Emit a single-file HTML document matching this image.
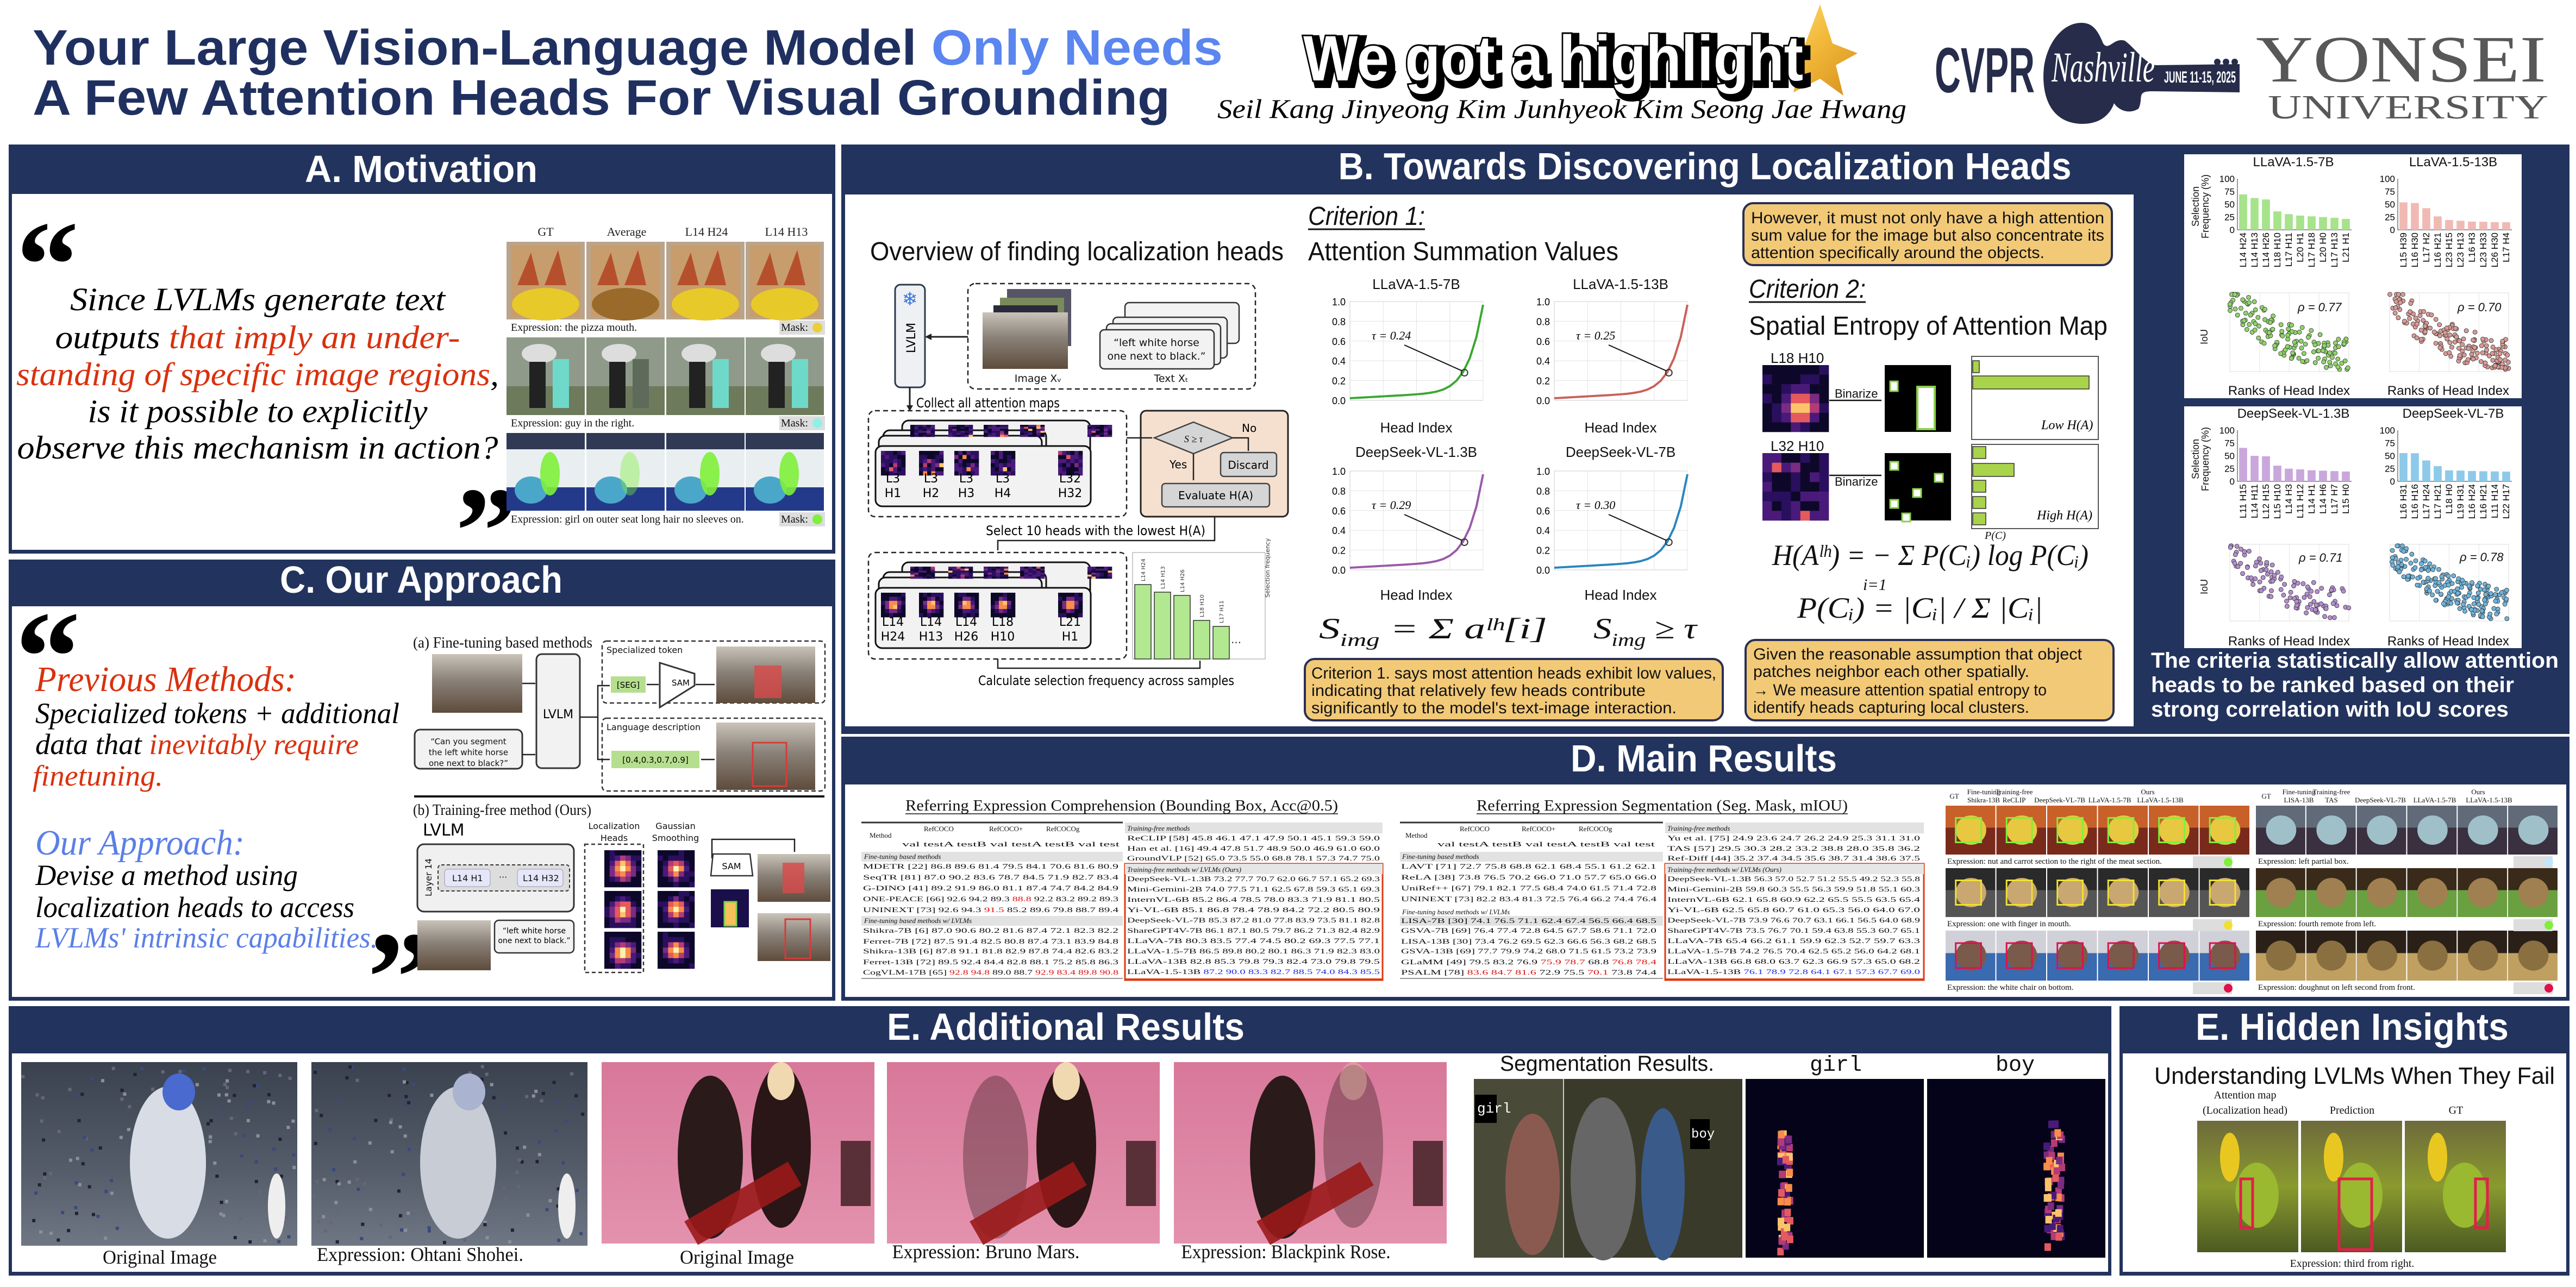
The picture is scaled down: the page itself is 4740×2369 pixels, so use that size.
<!DOCTYPE html>
<html><head><meta charset="utf-8">
<style>
html,body{margin:0;padding:0;background:#fff;width:4740px;height:2369px;overflow:hidden}
svg{display:block}
.hd{font-family:"Liberation Sans",sans-serif;font-weight:bold;fill:#fff}
.sf{font-family:"Liberation Serif",serif}
.ss{font-family:"DejaVu Sans","Liberation Sans",sans-serif}
.ls{font-family:"Liberation Sans",sans-serif}
.tb{font-family:"Liberation Serif",serif;font-size:13px;fill:#111}
</style></head><body>
<svg id="s" xmlns="http://www.w3.org/2000/svg" width="4740" height="2369" viewBox="0 0 4740 2369">
<defs>
<linearGradient id="star" x1="0" y1="0" x2="1" y2="1"><stop offset="0" stop-color="#ffe27a"/><stop offset="0.5" stop-color="#f2b93a"/><stop offset="1" stop-color="#d58f1c"/></linearGradient>
<linearGradient id="pink" x1="0" y1="0" x2="0" y2="1"><stop offset="0" stop-color="#d8789a"/><stop offset="1" stop-color="#e392ae"/></linearGradient>
<linearGradient id="crowd" x1="0" y1="0" x2="0" y2="1"><stop offset="0" stop-color="#3a4250"/><stop offset="0.6" stop-color="#555d6a"/><stop offset="1" stop-color="#6f7785"/></linearGradient>
<linearGradient id="horse" x1="0" y1="0" x2="0" y2="1"><stop offset="0" stop-color="#c9c3b8"/><stop offset="0.45" stop-color="#8a8178"/><stop offset="1" stop-color="#5e4c3c"/></linearGradient>
<linearGradient id="corn" x1="0" y1="0" x2="0" y2="1"><stop offset="0" stop-color="#6e6a3c"/><stop offset="0.5" stop-color="#8a9a2e"/><stop offset="1" stop-color="#4c5a22"/></linearGradient>
</defs>

<text x="60" y="119" font-size="92" class="ls" font-weight="bold" fill="#1f3060" textLength="2190" lengthAdjust="spacingAndGlyphs">Your Large Vision-Language Model <tspan fill="#5b86f0">Only Needs</tspan></text>
<text x="60" y="211" font-size="92" class="ls" font-weight="bold" fill="#1f3060" textLength="2093" lengthAdjust="spacingAndGlyphs">A Few Attention Heads For Visual Grounding</text>

<polygon fill="url(#star)" points="3349,8 3372,80 3418,98 3378,120 3392,176 3349,145 3300,170 3312,118 3252,100 3322,80"/>
<text x="2406" y="154" font-size="118" class="ls" font-weight="900" fill="#000" stroke="#000" stroke-width="16" textLength="920" lengthAdjust="spacingAndGlyphs">We got a highlight</text>
<text x="2398" y="148" font-size="118" class="ls" font-weight="900" fill="#fff" stroke="#000" stroke-width="6" paint-order="stroke" textLength="920" lengthAdjust="spacingAndGlyphs">We got a highlight</text>
<text x="2240" y="217" font-size="50" class="sf" font-style="italic" fill="#000" textLength="1268" lengthAdjust="spacingAndGlyphs">Seil Kang  Jinyeong Kim  Junhyeok Kim  Seong Jae Hwang</text>

<text x="3560" y="170" font-size="118" class="ls" font-weight="bold" fill="#262c4a" textLength="184" lengthAdjust="spacingAndGlyphs">CVPR</text>
<path d="M3830,42 C3790,42 3760,90 3760,140 C3760,200 3790,228 3832,228 C3870,228 3885,205 3890,190 C3900,205 3920,210 3935,200 C3945,180 3930,168 3960,168 L4121,170 L4121,118 L3966,120 C3945,115 3930,90 3910,75 C3890,68 3880,95 3870,80 C3860,55 3850,42 3830,42 Z" fill="#262c4a"/>
<text x="3775" y="150" font-size="78" class="sf" font-style="italic" fill="#fff" textLength="190" lengthAdjust="spacingAndGlyphs">Nashville</text>
<text x="3982" y="152" font-size="30" class="ls" font-weight="bold" fill="#fff" textLength="132" lengthAdjust="spacingAndGlyphs">JUNE 11-15, 2025</text>
<circle cx="4080" cy="114" r="6" fill="#262c4a"/><circle cx="4096" cy="114" r="6" fill="#262c4a"/><circle cx="4112" cy="114" r="6" fill="#262c4a"/>
<text x="4151" y="150" font-size="122" class="sf" fill="#585858" textLength="534" lengthAdjust="spacingAndGlyphs">YONSEI</text>
<text x="4173" y="218" font-size="62" class="sf" fill="#585858" textLength="516" lengthAdjust="spacingAndGlyphs">UNIVERSITY</text>

<g fill="#22335d">
<rect x="16" y="266" width="1521" height="753"/>
<rect x="16" y="1030" width="1521" height="812"/>
<rect x="1548" y="266" width="3180" height="1085"/>
<rect x="1548" y="1356" width="3180" height="486"/>
<rect x="16" y="1852" width="3869" height="496"/>
<rect x="3900" y="1852" width="828" height="496"/>
</g>
<g fill="#fff">
<rect x="22" y="357" width="1509" height="655"/>
<rect x="22" y="1116" width="1509" height="719"/>
<path d="M1555,358 H3926 V1337 H1555 Z"/>
<rect x="4019" y="284" width="621" height="449"/>
<rect x="4019" y="748" width="621" height="445"/>
<rect x="1555" y="1444" width="3167" height="391"/>
<rect x="22" y="1939" width="3857" height="402"/>
<rect x="3906" y="1939" width="816" height="402"/>
</g>
<text x="775" y="335" text-anchor="middle" font-size="70" class="hd" textLength="428" lengthAdjust="spacingAndGlyphs">A. Motivation</text>
<text x="775" y="1091" text-anchor="middle" font-size="70" class="hd" textLength="520" lengthAdjust="spacingAndGlyphs">C. Our Approach</text>
<text x="3137" y="330" text-anchor="middle" font-size="70" class="hd" textLength="1349" lengthAdjust="spacingAndGlyphs">B. Towards Discovering Localization Heads</text>
<text x="3135" y="1420" text-anchor="middle" font-size="70" class="hd" textLength="490" lengthAdjust="spacingAndGlyphs">D. Main Results</text>
<text x="1961" y="1914" text-anchor="middle" font-size="70" class="hd" textLength="658" lengthAdjust="spacingAndGlyphs">E. Additional Results</text>
<text x="4328" y="1914" text-anchor="middle" font-size="70" class="hd" textLength="576" lengthAdjust="spacingAndGlyphs">E. Hidden Insights</text>

<text x="30" y="565" font-size="230" class="sf" font-weight="bold" fill="#000">“</text>
<g class="sf" font-style="italic" font-size="60" fill="#000" text-anchor="middle">
<text x="474" y="571" textLength="690" lengthAdjust="spacingAndGlyphs">Since LVLMs generate text</text>
<text x="474" y="641" textLength="745" lengthAdjust="spacingAndGlyphs">outputs <tspan fill="#d9310e">that imply an under-</tspan></text>
<text x="474" y="709" textLength="888" lengthAdjust="spacingAndGlyphs"><tspan fill="#d9310e">standing of specific image regions</tspan>,</text>
<text x="474" y="777" textLength="625" lengthAdjust="spacingAndGlyphs">is it possible to explicitly</text>
<text x="474" y="844" textLength="885" lengthAdjust="spacingAndGlyphs">observe this mechanism in action?</text>
</g>
<text x="838" y="1055" font-size="230" class="sf" font-weight="bold" fill="#000">”</text>
<g class="sf" font-size="22" fill="#222" text-anchor="middle">
<text x="1004" y="434">GT</text><text x="1153" y="434">Average</text><text x="1300" y="434">L14 H24</text><text x="1447" y="434">L14 H13</text>
</g>
<g id="agrid"></g>
<g class="sf" font-size="20" fill="#111">
<rect x="932" y="590" width="586" height="26" fill="#fff"/>
<text x="940" y="609">Expression: the pizza mouth.</text>
<rect x="1434" y="590" width="84" height="26" fill="#ddd"/><text x="1437" y="609">Mask:</text><circle cx="1504" cy="603" r="9" fill="#e9cf3a"/>
<text x="940" y="785">Expression: guy in the right.</text>
<rect x="1434" y="766" width="84" height="26" fill="#ddd"/><text x="1437" y="785">Mask:</text><circle cx="1504" cy="779" r="9" fill="#8ff0e6"/>
<text x="940" y="962">Expression: girl on outer seat long hair no sleeves on.</text>
<rect x="1434" y="943" width="84" height="26" fill="#ddd"/><text x="1437" y="962">Mask:</text><circle cx="1504" cy="956" r="9" fill="#7ef03a"/>
</g>

<text x="28" y="1290" font-size="240" class="sf" font-weight="bold" fill="#000">“</text>
<g class="sf" font-style="italic">
<text x="65" y="1272" font-size="66" fill="#d9310e" textLength="480" lengthAdjust="spacingAndGlyphs">Previous Methods:</text>
<text x="65" y="1331" font-size="54" fill="#000" textLength="670" lengthAdjust="spacingAndGlyphs">Specialized tokens + additional</text>
<text x="65" y="1388" font-size="54" fill="#000" textLength="595" lengthAdjust="spacingAndGlyphs">data that <tspan fill="#d9310e">inevitably require</tspan></text>
<text x="60" y="1446" font-size="54" fill="#d9310e" textLength="240" lengthAdjust="spacingAndGlyphs">finetuning.</text>
<text x="65" y="1573" font-size="66" fill="#5b7fe8" textLength="385" lengthAdjust="spacingAndGlyphs">Our Approach:</text>
<text x="65" y="1629" font-size="54" fill="#000" textLength="483" lengthAdjust="spacingAndGlyphs">Devise a method using</text>
<text x="65" y="1688" font-size="54" fill="#000" textLength="587" lengthAdjust="spacingAndGlyphs">localization heads to access</text>
<text x="65" y="1744" font-size="54" fill="#5b7fe8" textLength="630" lengthAdjust="spacingAndGlyphs">LVLMs' intrinsic capabilities.</text>
</g>
<text x="676" y="1880" font-size="240" class="sf" font-weight="bold" fill="#000">”</text>
<g class="sf" fill="#111"><text x="760" y="1192" font-size="28" textLength="330" lengthAdjust="spacingAndGlyphs">(a) Fine-tuning based methods</text>
<text x="760" y="1500" font-size="28" textLength="328" lengthAdjust="spacingAndGlyphs">(b) Training-free method (Ours)</text></g>
<rect x="795" y="1204" width="166" height="108" fill="url(#horse)"/>
<rect x="987" y="1204" width="80" height="210" rx="10" fill="#f2f2f2" stroke="#333" stroke-width="3"/>
<text x="1027" y="1322" font-size="22" class="ss" text-anchor="middle">LVLM</text>
<rect x="763" y="1343" width="198" height="72" rx="10" fill="#f2f2f2" stroke="#333" stroke-width="3"/>
<g class="ss" font-size="15" text-anchor="middle" fill="#111"><text x="862" y="1370">“Can you segment</text><text x="862" y="1390">the left white horse</text><text x="862" y="1410">one next to black?”</text></g>
<rect x="1108" y="1180" width="410" height="114" fill="none" stroke="#333" stroke-width="2.5" stroke-dasharray="8,5" rx="8"/>
<rect x="1108" y="1322" width="410" height="134" fill="none" stroke="#333" stroke-width="2.5" stroke-dasharray="8,5" rx="8"/>
<g class="ss" font-size="16" fill="#111"><text x="1116" y="1202">Specialized token</text><text x="1116" y="1344">Language description</text></g>
<rect x="1124" y="1245" width="64" height="30" fill="#b5df8e"/><text x="1156" y="1266" font-size="15" class="ss" text-anchor="middle">[SEG]</text>
<polygon points="1214,1220 1278,1240 1278,1262 1214,1302" fill="#fff" stroke="#333" stroke-width="3"/>
<text x="1236" y="1262" font-size="15" class="ss">SAM</text>
<rect x="1125" y="1382" width="162" height="32" fill="#b5df8e"/><text x="1206" y="1404" font-size="15" class="ss" text-anchor="middle">[0.4,0.3,0.7,0.9]</text>
<rect x="1318" y="1190" width="182" height="104" fill="url(#horse)"/><rect x="1388" y="1225" width="50" height="60" fill="#d94a4a" opacity="0.8"/>
<rect x="1318" y="1330" width="182" height="124" fill="url(#horse)"/><rect x="1385" y="1367" width="62" height="80" fill="none" stroke="#d93a3a" stroke-width="3"/>
<line x1="762" y1="1466" x2="1517" y2="1466" stroke="#111" stroke-width="4"/>
<g stroke="#222" stroke-width="2.5" fill="none"><path d="M961,1258 H985"/><path d="M961,1389 H985"/><path d="M1067,1320 H1100 V1262 H1122 M1100,1320 V1398 H1122"/><path d="M1190,1260 H1212"/><path d="M1280,1260 H1315"/><path d="M1290,1398 H1315"/></g>
<text x="778" y="1538" font-size="30" class="ss">LVLM</text>
<rect x="768" y="1554" width="288" height="124" rx="12" fill="#f0f0f0" stroke="#333" stroke-width="3"/>
<rect x="806" y="1592" width="242" height="48" rx="6" fill="#ddd" stroke="#333" stroke-width="2" stroke-dasharray="6,4"/>
<rect x="818" y="1600" width="84" height="32" rx="6" fill="#e6e6fb" stroke="#99a" /><rect x="952" y="1600" width="84" height="32" rx="6" fill="#e6e6fb" stroke="#99a"/>
<g class="ss" font-size="16" fill="#111"><text x="832" y="1622">L14 H1</text><text x="918" y="1620">···</text><text x="962" y="1622">L14 H32</text>
<text x="794" y="1650" font-size="16" transform="rotate(-90 794 1650)">Layer 14</text></g>
<rect x="768" y="1694" width="135" height="92" fill="url(#horse)"/>
<rect x="910" y="1694" width="146" height="60" rx="8" fill="#f2f2f2" stroke="#333" stroke-width="2.5"/>
<g class="ss" font-size="14" text-anchor="middle"><text x="983" y="1718">“left white horse</text><text x="983" y="1736">one next to black.”</text></g>
<g class="ss" font-size="16" text-anchor="middle" fill="#111"><text x="1130" y="1526">Localization</text><text x="1130" y="1548">Heads</text><text x="1243" y="1526">Gaussian</text><text x="1243" y="1548">Smoothing</text></g>
<rect x="1076" y="1554" width="108" height="236" fill="none" stroke="#333" stroke-width="2.5" stroke-dasharray="7,5"/>
<g id="cmaps"></g>
<path d="M1310,1580 V1545 H1462 V1568" stroke="#222" stroke-width="2.5" fill="none"/>
<polygon points="1312,1572 1380,1572 1385,1612 1308,1612" fill="#fff" stroke="#333" stroke-width="2.5"/><text x="1346" y="1600" font-size="16" class="ss" text-anchor="middle">SAM</text>
<rect x="1308" y="1637" width="70" height="70" fill="#1a0f4a"/><rect x="1333" y="1660" width="22" height="44" fill="#f6c15a" stroke="#7bd44a" stroke-width="3"/>
<rect x="1394" y="1572" width="134" height="88" fill="url(#horse)"/><rect x="1440" y="1588" width="40" height="56" fill="#d94a4a" opacity="0.8"/>
<rect x="1394" y="1681" width="134" height="88" fill="url(#horse)"/><rect x="1445" y="1692" width="46" height="72" fill="none" stroke="#d93a3a" stroke-width="3"/>

<g class="ls" fill="#111">
<text x="1601" y="479" font-size="48" textLength="761" lengthAdjust="spacingAndGlyphs">Overview of finding localization heads</text>
<text x="2407" y="414" font-size="48" font-style="italic" textLength="215" lengthAdjust="spacingAndGlyphs">Criterion 1:</text>
<line x1="2407" y1="422" x2="2622" y2="422" stroke="#111" stroke-width="3"/>
<text x="2407" y="479" font-size="48" textLength="571" lengthAdjust="spacingAndGlyphs">Attention Summation Values</text>
<text x="3218" y="548" font-size="48" font-style="italic" textLength="215" lengthAdjust="spacingAndGlyphs">Criterion 2:</text>
<line x1="3218" y1="556" x2="3433" y2="556" stroke="#111" stroke-width="3"/>
<text x="3218" y="616" font-size="48" textLength="660" lengthAdjust="spacingAndGlyphs">Spatial Entropy of Attention Map</text>
</g>
<rect x="3208" y="374" width="678" height="114" rx="18" fill="#f2c977" stroke="#2a2f55" stroke-width="4"/>
<g class="ls" font-size="30" fill="#111"><text x="3222" y="411" textLength="650" lengthAdjust="spacingAndGlyphs">However, it must not only have a high attention</text><text x="3222" y="443" textLength="650" lengthAdjust="spacingAndGlyphs">sum value for the image but also concentrate its</text><text x="3222" y="475" textLength="540" lengthAdjust="spacingAndGlyphs">attention specifically around the objects.</text></g>
<rect x="2401" y="1213" width="769" height="113" rx="18" fill="#f2c977" stroke="#2a2f55" stroke-width="4"/>
<g class="ls" font-size="30" fill="#111"><text x="2413" y="1249" textLength="745" lengthAdjust="spacingAndGlyphs">Criterion 1. says most attention heads exhibit low values,</text><text x="2413" y="1281" textLength="615" lengthAdjust="spacingAndGlyphs">indicating that relatively few heads contribute</text><text x="2413" y="1313" textLength="672" lengthAdjust="spacingAndGlyphs">significantly to the model's text-image interaction.</text></g>
<rect x="3212" y="1178" width="677" height="148" rx="18" fill="#f2c977" stroke="#2a2f55" stroke-width="4"/>
<g class="ls" font-size="30" fill="#111"><text x="3226" y="1214" textLength="605" lengthAdjust="spacingAndGlyphs">Given the reasonable assumption that object</text><text x="3226" y="1246" textLength="508" lengthAdjust="spacingAndGlyphs">patches neighbor each other spatially.</text><text x="3226" y="1280" textLength="540" lengthAdjust="spacingAndGlyphs">→ We measure attention spatial entropy to</text><text x="3226" y="1312" textLength="508" lengthAdjust="spacingAndGlyphs">identify heads capturing local clusters.</text></g>

<rect x="1647" y="524" width="55" height="189" rx="10" fill="#eef0f4" stroke="#2a3a4a" stroke-width="3"/>
<text x="1674" y="562" font-size="34" text-anchor="middle" fill="#3a78d8" class="ss">❄</text>
<text x="1684" y="650" font-size="22" class="ss" transform="rotate(-90 1684 650)">LVLM</text>
<rect x="1781" y="522" width="529" height="194" rx="14" fill="none" stroke="#222" stroke-width="2.5" stroke-dasharray="9,6"/>
<path d="M1781,620 H1706" stroke="#222" stroke-width="3"/><polygon points="1702,620 1714,614 1714,626" fill="#222"/>
<rect x="1853" y="532" width="118" height="105" fill="#556"/><rect x="1840" y="548" width="118" height="105" fill="#7a8a5a"/><rect x="1828" y="562" width="118" height="105" fill="#2a2a3a"/>
<rect x="1808" y="575" width="157" height="104" fill="url(#horse)"/>
<rect x="2070" y="557" width="210" height="75" rx="8" fill="#f2f2f2" stroke="#333" stroke-width="2.5"/>
<rect x="2048" y="584" width="210" height="75" rx="8" fill="#f2f2f2" stroke="#333" stroke-width="2.5"/>
<rect x="2036" y="596" width="210" height="75" rx="8" fill="#f2f2f2" stroke="#333" stroke-width="2.5"/>
<rect x="2024" y="607" width="210" height="72" rx="8" fill="#f2f2f2" stroke="#333" stroke-width="2.5"/>
<g class="ss" font-size="19" text-anchor="middle" fill="#111"><text x="2128" y="637">“left white horse</text><text x="2128" y="662">one next to black.”</text><text x="1910" y="703">Image Xᵥ</text><text x="2155" y="703">Text Xₜ</text></g>
<path d="M1674,713 V752" stroke="#222" stroke-width="3"/><polygon points="1674,757 1668,746 1680,746" fill="#222"/>
<text x="1686" y="750" font-size="24" class="ss" textLength="264" lengthAdjust="spacingAndGlyphs">Collect all attention maps</text>
<rect x="1598" y="756" width="475" height="195" rx="12" fill="none" stroke="#222" stroke-width="2.5" stroke-dasharray="9,6"/>
<rect x="2099" y="756" width="271" height="195" rx="10" fill="#f5e0d0" stroke="#222" stroke-width="3"/>
<g id="flow1"></g>
<polygon points="2196,777 2268,806 2196,835 2124,806" fill="#d5d5d5" stroke="#444" stroke-width="2.5"/>
<text x="2196" y="814" font-size="18" class="sf" font-style="italic" text-anchor="middle">S ≥ τ</text>
<path d="M2073,806 H2120 M2268,806 H2297 V830 M2196,835 V884" stroke="#222" stroke-width="2.5" fill="none"/>
<text x="2285" y="795" font-size="20" class="ss">No</text><text x="2152" y="862" font-size="20" class="ss">Yes</text>
<rect x="2246" y="833" width="103" height="44" rx="6" fill="#d5d5d5" stroke="#444" stroke-width="2.5"/><text x="2297" y="863" font-size="20" class="ss" text-anchor="middle">Discard</text>
<rect x="2138" y="890" width="198" height="43" rx="6" fill="#d5d5d5" stroke="#444" stroke-width="2.5"/><text x="2237" y="919" font-size="20" class="ss" text-anchor="middle">Evaluate H(A)</text>
<path d="M2235,951 V995 H1836 V1013" stroke="#222" stroke-width="2.5" fill="none"/>
<text x="1814" y="985" font-size="24" class="ss" textLength="404" lengthAdjust="spacingAndGlyphs">Select 10 heads with the lowest H(A)</text>
<rect x="1598" y="1017" width="475" height="196" rx="12" fill="none" stroke="#222" stroke-width="2.5" stroke-dasharray="9,6"/>
<g id="flow2"></g>
<rect x="2084" y="1017" width="244" height="196" fill="#fff" stroke="#999" stroke-width="1"/>
<g fill="#b2e890" stroke="#333" stroke-width="1.5">
<rect x="2088" y="1076" width="30" height="137"/><rect x="2124" y="1090" width="30" height="123"/><rect x="2160" y="1096" width="30" height="117"/><rect x="2196" y="1142" width="30" height="71"/><rect x="2232" y="1153" width="30" height="60"/></g>
<g class="ss" font-size="10" fill="#333"><text x="2107" y="1070" transform="rotate(-90 2107 1070)">L14 H24</text><text x="2143" y="1084" transform="rotate(-90 2143 1084)">L14 H13</text><text x="2179" y="1090" transform="rotate(-90 2179 1090)">L14 H26</text><text x="2215" y="1136" transform="rotate(-90 2215 1136)">L18 H10</text><text x="2251" y="1147" transform="rotate(-90 2251 1147)">L17 H11</text>
<text x="2265" y="1190" font-size="20">···</text><text x="2336" y="1100" font-size="11" transform="rotate(-90 2336 1100)">Selection frequency</text></g>
<path d="M1836,1213 V1230 H2208 V1216" stroke="#222" stroke-width="2.5" fill="none"/>
<text x="1800" y="1261" font-size="24" class="ss" textLength="471" lengthAdjust="spacingAndGlyphs">Calculate selection frequency across samples</text>

<g id="lplots"></g>
<g class="ls" font-size="26" fill="#111" text-anchor="middle">
<text x="2606" y="532">LLaVA-1.5-7B</text><text x="2982" y="532">LLaVA-1.5-13B</text>
<text x="2606" y="841">DeepSeek-VL-1.3B</text><text x="2982" y="841">DeepSeek-VL-7B</text>
<text x="2606" y="796">Head Index</text><text x="2982" y="796">Head Index</text>
<text x="2606" y="1104">Head Index</text><text x="2982" y="1104">Head Index</text>
</g>
<g class="sf" font-size="54" font-style="italic" fill="#111">
<text x="2427" y="1175" textLength="420" lengthAdjust="spacingAndGlyphs">S<tspan font-size="34" dy="14">img</tspan><tspan dy="-14"> = Σ aˡʰ[i]</tspan></text>
<text x="2932" y="1175" textLength="190" lengthAdjust="spacingAndGlyphs">S<tspan font-size="34" dy="14">img</tspan><tspan dy="-14"> ≥ τ</tspan></text>
<text x="3261" y="1040" textLength="582" lengthAdjust="spacingAndGlyphs">H(Aˡʰ) = − Σ P(Cᵢ) log P(Cᵢ)</text>
<text x="3307" y="1137" textLength="452" lengthAdjust="spacingAndGlyphs">P(Cᵢ) = |Cᵢ| / Σ |Cᵢ|</text>
<text x="3428" y="1086" font-size="30">i=1</text>
</g>
<g class="ls" font-size="26" fill="#111"><text x="3258" y="668">L18 H10</text><text x="3258" y="830">L32 H10</text><text x="3376" y="732" font-size="22">Binarize</text><text x="3376" y="894" font-size="22">Binarize</text><text x="3652" y="992" font-size="20" class="sf" font-style="italic">P(C)</text></g>
<g id="entropy"></g>
<path d="M3366,737 H3462 M3366,875 H3462" stroke="#111" stroke-width="2.5"/>
<rect x="3628" y="656" width="233" height="153" fill="#fff" stroke="#555" stroke-width="2"/>
<rect x="3628" y="818" width="233" height="155" fill="#fff" stroke="#555" stroke-width="2"/>
<g fill="#a9d34a" stroke="#333" stroke-width="1.5"><rect x="3630" y="664" width="12" height="22"/><rect x="3630" y="692" width="214" height="24"/>
<rect x="3630" y="822" width="24" height="22"/><rect x="3630" y="853" width="76" height="24"/><rect x="3630" y="884" width="24" height="22"/><rect x="3630" y="914" width="24" height="22"/><rect x="3630" y="944" width="24" height="22"/></g>
<text x="3756" y="790" font-size="24" class="sf" font-style="italic">Low H(A)</text><text x="3748" y="956" font-size="24" class="sf" font-style="italic">High H(A)</text>

<g id="rpanel"></g>
<g class="ls" font-size="24" fill="#111" text-anchor="middle">
<text x="4220" y="306">LLaVA-1.5-7B</text><text x="4514" y="306">LLaVA-1.5-13B</text>
<text x="4220" y="769">DeepSeek-VL-1.3B</text><text x="4514" y="769">DeepSeek-VL-7B</text>
<text x="4212" y="727">Ranks of Head Index</text><text x="4505" y="727">Ranks of Head Index</text>
<text x="4212" y="1188">Ranks of Head Index</text><text x="4505" y="1188">Ranks of Head Index</text>
</g>
<g class="ls" font-size="18" fill="#111">
<text x="4046" y="380" transform="rotate(-90 4046 380)" text-anchor="middle">Selection</text><text x="4064" y="380" transform="rotate(-90 4064 380)" text-anchor="middle">Frequency (%)</text>
<text x="4046" y="845" transform="rotate(-90 4046 845)" text-anchor="middle">Selection</text><text x="4064" y="845" transform="rotate(-90 4064 845)" text-anchor="middle">Frequency (%)</text>
<text x="4062" y="620" transform="rotate(-90 4062 620)" text-anchor="middle">IoU</text><text x="4062" y="1080" transform="rotate(-90 4062 1080)" text-anchor="middle">IoU</text>
<text x="4228" y="573" font-style="italic" font-size="22">ρ = 0.77</text><text x="4522" y="573" font-style="italic" font-size="22">ρ = 0.70</text>
<text x="4230" y="1034" font-style="italic" font-size="22">ρ = 0.71</text><text x="4526" y="1033" font-style="italic" font-size="22">ρ = 0.78</text>
</g>
<g class="ls" font-size="40" font-weight="bold" fill="#fff">
<text x="3958" y="1229" textLength="750" lengthAdjust="spacingAndGlyphs">The criteria statistically allow attention</text>
<text x="3958" y="1274" textLength="668" lengthAdjust="spacingAndGlyphs">heads to be ranked based on their</text>
<text x="3958" y="1319" textLength="658" lengthAdjust="spacingAndGlyphs">strong correlation with IoU scores</text>
</g>

<g class="sf" font-size="28" fill="#111">
<text x="1666" y="1492" textLength="796" lengthAdjust="spacingAndGlyphs">Referring Expression Comprehension (Bounding Box, Acc@0.5)</text>
<text x="2717" y="1492" textLength="683" lengthAdjust="spacingAndGlyphs">Referring Expression Segmentation (Seg. Mask, mIOU)</text>
</g>
<line x1="1666" y1="1498" x2="2462" y2="1498" stroke="#111" stroke-width="1.5"/><line x1="2717" y1="1498" x2="3400" y2="1498" stroke="#111" stroke-width="1.5"/>
<g id="tables"></g>
<g class="tb">
<text x="1600" y="1542">Method</text><text x="1700" y="1530">RefCOCO</text><text x="1820" y="1530">RefCOCO+</text><text x="1925" y="1530">RefCOCOg</text>
<text x="1660" y="1558" textLength="400" lengthAdjust="spacingAndGlyphs">val testA testB val testA testB val test</text>
<text x="1590" y="1581" font-style="italic">Fine-tuning based methods</text>
<text x="1588" y="1599" textLength="470" lengthAdjust="spacingAndGlyphs">MDETR [22]   86.8 89.6 81.4 79.5 84.1 70.6 81.6 80.9</text>
<text x="1588" y="1619" textLength="470" lengthAdjust="spacingAndGlyphs">SeqTR [81]   87.0 90.2 83.6 78.7 84.5 71.9 82.7 83.4</text>
<text x="1588" y="1639" textLength="470" lengthAdjust="spacingAndGlyphs">G-DINO [41]  89.2 91.9 86.0 81.1 87.4 74.7 84.2 84.9</text>
<text x="1588" y="1659" textLength="470" lengthAdjust="spacingAndGlyphs">ONE-PEACE [66] 92.6 94.2 89.3 <tspan fill="#e01010">88.8</tspan> 92.2 83.2 89.2 89.3</text>
<text x="1588" y="1679" textLength="470" lengthAdjust="spacingAndGlyphs">UNINEXT [73] 92.6 94.3 <tspan fill="#e01010">91.5</tspan> 85.2 89.6 79.8 88.7 89.4</text>
<text x="1590" y="1699" font-style="italic">Fine-tuning based methods w/ LVLMs</text>
<text x="1588" y="1717" textLength="470" lengthAdjust="spacingAndGlyphs">Shikra-7B [6] 87.0 90.6 80.2 81.6 87.4 72.1 82.3 82.2</text>
<text x="1588" y="1737" textLength="470" lengthAdjust="spacingAndGlyphs">Ferret-7B [72] 87.5 91.4 82.5 80.8 87.4 73.1 83.9 84.8</text>
<text x="1588" y="1755" textLength="470" lengthAdjust="spacingAndGlyphs">Shikra-13B [6] 87.8 91.1 81.8 82.9 87.8 74.4 82.6 83.2</text>
<text x="1588" y="1775" textLength="470" lengthAdjust="spacingAndGlyphs">Ferret-13B [72] 89.5 92.4 84.4 82.8 88.1 75.2 85.8 86.3</text>
<text x="1588" y="1794" textLength="470" lengthAdjust="spacingAndGlyphs">CogVLM-17B [65] <tspan fill="#e01010">92.8 94.8</tspan> 89.0 88.7 <tspan fill="#e01010">92.9 83.4 89.8 90.8</tspan></text>
<text x="2074" y="1529" font-style="italic">Training-free methods</text>
<text x="2074" y="1547" textLength="465" lengthAdjust="spacingAndGlyphs">ReCLIP [58] 45.8 46.1 47.1 47.9 50.1 45.1 59.3 59.0</text>
<text x="2074" y="1566" textLength="465" lengthAdjust="spacingAndGlyphs">Han et al. [16] 49.4 47.8 51.7 48.9 50.0 46.9 61.0 60.0</text>
<text x="2074" y="1584" textLength="465" lengthAdjust="spacingAndGlyphs">GroundVLP [52] 65.0 73.5 55.0 68.8 78.1 57.3 74.7 75.0</text>
<text x="2074" y="1605" font-style="italic">Training-free methods w/ LVLMs (Ours)</text>
<text x="2074" y="1622" textLength="465" lengthAdjust="spacingAndGlyphs">DeepSeek-VL-1.3B 73.2 77.7 70.7 62.0 66.7 57.1 65.2 69.3</text>
<text x="2074" y="1641" textLength="465" lengthAdjust="spacingAndGlyphs">Mini-Gemini-2B 74.0 77.5 71.1 62.5 67.8 59.3 65.1 69.3</text>
<text x="2074" y="1660" textLength="465" lengthAdjust="spacingAndGlyphs">InternVL-6B 85.2 86.4 78.5 78.0 83.3 71.9 81.1 80.5</text>
<text x="2074" y="1679" textLength="465" lengthAdjust="spacingAndGlyphs">Yi-VL-6B 85.1 86.8 78.4 78.9 84.2 72.2 80.5 80.9</text>
<text x="2074" y="1698" textLength="465" lengthAdjust="spacingAndGlyphs">DeepSeek-VL-7B 85.3 87.2 81.0 77.8 83.9 73.5 81.1 82.8</text>
<text x="2074" y="1717" textLength="465" lengthAdjust="spacingAndGlyphs">ShareGPT4V-7B 86.1 87.1 80.5 79.7 86.2 71.3 82.4 82.9</text>
<text x="2074" y="1736" textLength="465" lengthAdjust="spacingAndGlyphs">LLaVA-7B 80.3 83.5 77.4 74.5 80.2 69.3 77.5 77.1</text>
<text x="2074" y="1755" textLength="465" lengthAdjust="spacingAndGlyphs">LLaVA-1.5-7B 86.5 89.8 80.2 80.1 86.3 71.9 82.3 83.0</text>
<text x="2074" y="1774" textLength="465" lengthAdjust="spacingAndGlyphs">LLaVA-13B 82.8 85.3 79.8 79.3 82.4 73.0 79.8 79.5</text>
<text x="2074" y="1793" textLength="465" lengthAdjust="spacingAndGlyphs">LLaVA-1.5-13B <tspan fill="#1a2ee0">87.2 90.0 83.3 82.7 88.5 74.0 84.3 85.5</tspan></text>

<text x="2586" y="1542">Method</text><text x="2686" y="1530">RefCOCO</text><text x="2800" y="1530">RefCOCO+</text><text x="2905" y="1530">RefCOCOg</text>
<text x="2645" y="1558" textLength="400" lengthAdjust="spacingAndGlyphs">val testA testB val testA testB val test</text>
<text x="2580" y="1581" font-style="italic">Fine-tuning based methods</text>
<text x="2578" y="1599" textLength="470" lengthAdjust="spacingAndGlyphs">LAVT [71] 72.7 75.8 68.8 62.1 68.4 55.1 61.2 62.1</text>
<text x="2578" y="1619" textLength="470" lengthAdjust="spacingAndGlyphs">ReLA [38] 73.8 76.5 70.2 66.0 71.0 57.7 65.0 66.0</text>
<text x="2578" y="1639" textLength="470" lengthAdjust="spacingAndGlyphs">UniRef++ [67] 79.1 82.1 77.5 68.4 74.0 61.5 71.4 72.8</text>
<text x="2578" y="1659" textLength="470" lengthAdjust="spacingAndGlyphs">UNINEXT [73] 82.2 83.4 81.3 72.5 76.4 66.2 74.4 76.4</text>
<text x="2580" y="1683" font-style="italic">Fine-tuning based methods w/ LVLMs</text>
<text x="2578" y="1699" textLength="470" lengthAdjust="spacingAndGlyphs">LISA-7B [30] 74.1 76.5 71.1 62.4 67.4 56.5 66.4 68.5</text>
<text x="2578" y="1717" textLength="470" lengthAdjust="spacingAndGlyphs">GSVA-7B [69] 76.4 77.4 72.8 64.5 67.7 58.6 71.1 72.0</text>
<text x="2578" y="1737" textLength="470" lengthAdjust="spacingAndGlyphs">LISA-13B [30] 73.4 76.2 69.5 62.3 66.6 56.3 68.2 68.5</text>
<text x="2578" y="1755" textLength="470" lengthAdjust="spacingAndGlyphs">GSVA-13B [69] 77.7 79.9 74.2 68.0 71.5 61.5 73.2 73.9</text>
<text x="2578" y="1775" textLength="470" lengthAdjust="spacingAndGlyphs">GLaMM [49] 79.5 83.2 76.9 <tspan fill="#e01010">75.9 78.7</tspan> 68.8 <tspan fill="#e01010">76.8 78.4</tspan></text>
<text x="2578" y="1794" textLength="470" lengthAdjust="spacingAndGlyphs">PSALM [78] <tspan fill="#e01010">83.6 84.7 81.6</tspan> 72.9 75.5 <tspan fill="#e01010">70.1</tspan> 73.8 74.4</text>
<text x="3068" y="1529" font-style="italic">Training-free methods</text>
<text x="3068" y="1547" textLength="465" lengthAdjust="spacingAndGlyphs">Yu et al. [75] 24.9 23.6 24.7 26.2 24.9 25.3 31.1 31.0</text>
<text x="3068" y="1566" textLength="465" lengthAdjust="spacingAndGlyphs">TAS [57] 29.5 30.3 28.2 33.2 38.8 28.0 35.8 36.2</text>
<text x="3068" y="1584" textLength="465" lengthAdjust="spacingAndGlyphs">Ref-Diff [44] 35.2 37.4 34.5 35.6 38.7 31.4 38.6 37.5</text>
<text x="3068" y="1605" font-style="italic">Training-free methods w/ LVLMs (Ours)</text>
<text x="3068" y="1622" textLength="465" lengthAdjust="spacingAndGlyphs">DeepSeek-VL-1.3B 56.3 57.0 52.7 51.2 55.5 49.2 52.3 55.8</text>
<text x="3068" y="1641" textLength="465" lengthAdjust="spacingAndGlyphs">Mini-Gemini-2B 59.8 60.3 55.5 56.3 59.9 51.8 55.1 60.3</text>
<text x="3068" y="1660" textLength="465" lengthAdjust="spacingAndGlyphs">InternVL-6B 62.1 65.8 60.9 62.2 65.5 55.5 63.5 65.4</text>
<text x="3068" y="1679" textLength="465" lengthAdjust="spacingAndGlyphs">Yi-VL-6B 62.5 65.8 60.7 61.0 65.3 56.0 64.0 67.0</text>
<text x="3068" y="1698" textLength="465" lengthAdjust="spacingAndGlyphs">DeepSeek-VL-7B 73.9 76.6 70.7 63.1 66.1 56.5 64.0 68.9</text>
<text x="3068" y="1717" textLength="465" lengthAdjust="spacingAndGlyphs">ShareGPT4V-7B 73.5 76.7 70.1 59.4 63.8 55.3 60.7 65.1</text>
<text x="3068" y="1736" textLength="465" lengthAdjust="spacingAndGlyphs">LLaVA-7B 65.4 66.2 61.1 59.9 62.3 52.7 59.7 63.3</text>
<text x="3068" y="1755" textLength="465" lengthAdjust="spacingAndGlyphs">LLaVA-1.5-7B 74.2 76.5 70.4 62.5 65.2 56.0 64.2 68.1</text>
<text x="3068" y="1774" textLength="465" lengthAdjust="spacingAndGlyphs">LLaVA-13B 66.8 68.0 63.7 62.3 66.9 57.3 65.0 68.2</text>
<text x="3068" y="1793" textLength="465" lengthAdjust="spacingAndGlyphs">LLaVA-1.5-13B <tspan fill="#1a2ee0">76.1 78.9 72.8 64.1 67.1 57.3 67.7 69.0</tspan></text>
</g>
<g id="dimgs"></g>
<g class="sf" font-size="15" fill="#111">
<text x="3583" y="1590">Expression: nut and carrot section to the right of the meat section.</text>
<text x="4155" y="1590">Expression: left partial box.</text>
<text x="3583" y="1705">Expression: one with finger in mouth.</text>
<text x="4155" y="1705">Expression: fourth remote from left.</text>
<text x="3583" y="1822">Expression: the white chair on bottom.</text>
<text x="4155" y="1822">Expression: doughnut on left second from front.</text>
</g>
<g class="sf" font-size="13" fill="#111" text-anchor="middle">
<text x="3596" y="1470">GT</text><text x="3650" y="1462">Fine-tuning</text><text x="3650" y="1477">Shikra-13B</text><text x="3706" y="1462">Training-free</text><text x="3706" y="1477">ReCLIP</text><text x="3952" y="1462">Ours</text>
<text x="3790" y="1477">DeepSeek-VL-7B</text><text x="3882" y="1477">LLaVA-1.5-7B</text><text x="3975" y="1477">LLaVA-1.5-13B</text>
<text x="4170" y="1470">GT</text><text x="4230" y="1462">Fine-tuning</text><text x="4230" y="1477">LISA-13B</text><text x="4290" y="1462">Training-free</text><text x="4290" y="1477">TAS</text><text x="4560" y="1462">Ours</text>
<text x="4380" y="1477">DeepSeek-VL-7B</text><text x="4480" y="1477">LLaVA-1.5-7B</text><text x="4580" y="1477">LLaVA-1.5-13B</text>
</g>

<g id="eimgs"></g>
<g class="sf" font-size="36" fill="#111" text-anchor="middle">
<text x="294" y="2326" textLength="210" lengthAdjust="spacingAndGlyphs">Original Image</text>
<text x="773" y="2321" textLength="380" lengthAdjust="spacingAndGlyphs">Expression: Ohtani Shohei.</text>
<text x="1356" y="2326" textLength="210" lengthAdjust="spacingAndGlyphs">Original Image</text>
<text x="1814" y="2316" textLength="345" lengthAdjust="spacingAndGlyphs">Expression: Bruno Mars.</text>
<text x="2366" y="2316" textLength="385" lengthAdjust="spacingAndGlyphs">Expression: Blackpink Rose.</text>
</g>
<text x="2760" y="1971" font-size="40" class="ls" fill="#111" textLength="394" lengthAdjust="spacingAndGlyphs">Segmentation Results.</text>
<text x="3330" y="1971" font-size="40" font-family="Liberation Mono" fill="#111">girl</text>
<text x="3672" y="1971" font-size="40" font-family="Liberation Mono" fill="#111">boy</text>

<text x="3964" y="1995" font-size="44" class="ls" fill="#111" textLength="737" lengthAdjust="spacingAndGlyphs">Understanding LVLMs When They Fail</text>
<g class="sf" font-size="20" fill="#111" text-anchor="middle">
<text x="4131" y="2022">Attention map</text><text x="4131" y="2050">(Localization head)</text><text x="4328" y="2050">Prediction</text><text x="4519" y="2050">GT</text>
<text x="4328" y="2332">Expression: third from right.</text></g>
</svg>
<script>
(function(){
var NS="http://www.w3.org/2000/svg";
function el(p,t,a){var e=document.createElementNS(NS,t);for(var k in a)e.setAttribute(k,a[k]);p.appendChild(e);return e;}
function g(id){return document.getElementById(id);}
var seed=7;function rnd(){seed=(seed*9301+49297)%233280;return seed/233280;}
var mag=["#0d0829","#2a0f5e","#4a1a7a","#7a2b82","#b43b76","#e45a5e","#f98c4a","#fcc46a","#fcf2b0"];
function heat(p,x,y,w,h,n,peak,cx,cy,sp){var cw=w/n,ch=h/n;for(var i=0;i<n;i++)for(var j=0;j<n;j++){var v;if(peak){var d=Math.hypot(i-cx,j-cy);v=Math.max(0,1-d/sp)+rnd()*0.15;}else{v=rnd()*0.35+(rnd()<0.05?0.5:0);}var c=mag[Math.min(8,Math.floor(v*8.9))];el(p,"rect",{x:x+i*cw,y:y+j*ch,width:cw+0.3,height:ch+0.3,fill:c});}}
var A=g("agrid"),cols=[932,1079,1226,1372],rows=[445,621,797];
rows.forEach(function(ry,r){cols.forEach(function(cx,c){
 if(r==0){el(A,"rect",{x:cx,y:ry,width:144,height:143,fill:"#b9a48c"});el(A,"rect",{x:cx+8,y:ry+6,width:128,height:132,fill:"#c79d6e"});el(A,"polygon",{points:(cx+20)+","+(ry+80)+" "+(cx+45)+","+(ry+20)+" "+(cx+60)+","+(ry+80),fill:"#b6502c"});el(A,"polygon",{points:(cx+70)+","+(ry+80)+" "+(cx+95)+","+(ry+15)+" "+(cx+110)+","+(ry+80),fill:"#b6502c"});el(A,"ellipse",{cx:cx+72,cy:ry+115,rx:62,ry:30,fill:c==1?"#9a6a2a":"#e8c92a"});}
 else if(r==1){el(A,"rect",{x:cx,y:ry,width:144,height:143,fill:"#8f9a8a"});el(A,"rect",{x:cx,y:ry+90,width:144,height:53,fill:"#6d7a5c"});el(A,"ellipse",{cx:cx+60,cy:ry+30,rx:32,ry:18,fill:"#ddd"});el(A,"rect",{x:cx+42,y:ry+45,width:30,height:85,fill:"#222"});el(A,"rect",{x:cx+85,y:ry+40,width:30,height:90,fill:c==1?"#5e6a5a":"#6fd9c9"});}
 else{el(A,"rect",{x:cx,y:ry,width:144,height:143,fill:"#e9eef0"});el(A,"rect",{x:cx,y:ry,width:144,height:30,fill:"#303a55"});el(A,"rect",{x:cx,y:ry+100,width:144,height:43,fill:"#233a8a"});el(A,"ellipse",{cx:cx+45,cy:ry+105,rx:30,ry:25,fill:"#4aa7c9"});el(A,"ellipse",{cx:cx+80,cy:ry+75,rx:18,ry:40,fill:"#7ef03a",opacity:c==1?0.4:0.9});}
});});
var C=g("cmaps");[1565,1640,1715].forEach(function(y,i){heat(C,1112,y,68,68,7,true,3,3+i*0.3,3);heat(C,1210,y,68,68,7,true,3,3,2.5);});
function cards(p,y0,peak){[[1660,y0],[1625,y0+18],[1617,y0+28]].forEach(function(q,k){el(p,"rect",{x:q[0],y:q[1],width:k==0?346:300,height:k==0?108:112,rx:12,fill:"#f2f2f2",stroke:"#111","stroke-width":3});});
 el(p,"rect",{x:1611,y:y0+47,width:396,height:111,rx:12,fill:"#f2f2f2",stroke:"#111","stroke-width":3});
 [1621,1691,1756,1823,1947].forEach(function(x,i){heat(p,x,y0+56,45,45,6,peak,2.5,2.5,peak?2.2:1);heat(p,x+54,y0+8,45,22,6,false);});}
cards(g("flow1"),774,false);cards(g("flow2"),1035,true);
var f1=g("flow1");[["L3","H1",1643],["L3","H2",1713],["L3","H3",1778],["L3","H4",1845],["L32","H32",1969]].forEach(function(a){var t=el(f1,"text",{x:a[2],y:888,"font-size":22,"text-anchor":"middle","class":"ss"});t.textContent=a[0];t=el(f1,"text",{x:a[2],y:915,"font-size":22,"text-anchor":"middle","class":"ss"});t.textContent=a[1];});
var f2=g("flow2");[["L14","H24",1643],["L14","H13",1713],["L14","H26",1778],["L18","H10",1845],["L21","H1",1969]].forEach(function(a){var t=el(f2,"text",{x:a[2],y:1152,"font-size":22,"text-anchor":"middle","class":"ss"});t.textContent=a[0];t=el(f2,"text",{x:a[2],y:1179,"font-size":22,"text-anchor":"middle","class":"ss"});t.textContent=a[1];});
var L=g("lplots");var pl=[[2484,555,"#3aa832"],[2860,555,"#c9605a"],[2484,867,"#9a5aa8"],[2860,867,"#2a86c0"]];
pl.forEach(function(p){var x=p[0],y=p[1],w=245,h=182;el(L,"rect",{x:x,y:y,width:w,height:h,fill:"#fff",stroke:"#ccc"});for(var i=1;i<5;i++){el(L,"line",{x1:x,y1:y+h*i/5,x2:x+w,y2:y+h*i/5,stroke:"#e3e3e3"});el(L,"line",{x1:x+w*i/4,y1:y,x2:x+w*i/4,y2:y+h,stroke:"#e3e3e3"});}
 var d="M"+x+","+(y+h-4);for(var t=0;t<=1.001;t+=0.05){d+=" L"+(x+t*w)+","+(y+h-4-(h-10)*(0.08*t+0.92*Math.pow(t,9)))}el(L,"path",{d:d,fill:"none",stroke:p[2],"stroke-width":4});
 el(L,"circle",{cx:x+w*0.86,cy:y+h*0.72,r:6,fill:"none",stroke:"#333","stroke-width":2});
 var tt=el(L,"text",{x:x+40,y:y+70,"font-size":22,"class":"sf","font-style":"italic"});tt.textContent="τ = "+["0.24","0.25","0.29","0.30"][pl.indexOf(p)];
 el(L,"line",{x1:x+100,y1:y+80,x2:x+w*0.84,y2:y+h*0.7,stroke:"#111","stroke-width":2});
 ["0.0","0.2","0.4","0.6","0.8","1.0"].forEach(function(s,i){var q=el(L,"text",{x:x-8,y:y+h-i*h/5+7,"font-size":18,"text-anchor":"end","class":"ls"});q.textContent=s;});
});
var E=g("entropy");heat(E,3243,672,122,123,7,true,3.5,4,2.5);heat(E,3243,834,122,124,7,false);
el(E,"rect",{x:3468,y:672,width:122,height:123,fill:"#000"});el(E,"rect",{x:3528,y:712,width:32,height:78,fill:"#fff",stroke:"#8ad04a","stroke-width":4});el(E,"rect",{x:3478,y:702,width:14,height:18,fill:"#fff",stroke:"#8ad04a","stroke-width":3});
el(E,"rect",{x:3468,y:834,width:122,height:124,fill:"#000"});[[3478,850],[3560,872],[3520,900],[3478,920],[3500,945]].forEach(function(q){el(E,"rect",{x:q[0],y:q[1],width:15,height:15,fill:"#fff",stroke:"#8ad04a","stroke-width":3});});
var R=g("rpanel");
function bars(x,y,w,h,vals,col){el(R,"line",{x1:x,y1:y,x2:x,y2:y+h,stroke:"#333"});el(R,"line",{x1:x,y1:y+h,x2:x+w,y2:y+h,stroke:"#333"});var bw=w/10;vals.forEach(function(v,i){var bh=h*v/100;el(R,"rect",{x:x+i*bw+bw*0.15,y:y+h-bh,width:bw*0.7,height:bh,fill:col});});
 [0,25,50,75,100].forEach(function(s){var q=el(R,"text",{x:x-5,y:y+h-h*s/100+6,"font-size":17,"text-anchor":"end","class":"ls"});q.textContent=s;});}
bars(4117,329,210,94,[69.38,62.23,59.40,36.02,30.66,27.83,26.32,24.85,23.54,21.39],"#a6e38a");
bars(4412,329,210,94,[53.68,52.44,42.30,26.26,19.11,17.68,16.01,15.72,15.07,14.99],"#f1b9b4");
bars(4117,792,210,94,[65.54,49.94,49.05,30.75,24.83,23.40,21.67,20.92,20.05,19.24],"#c9a7dc");
bars(4412,792,210,94,[55.33,55.08,40.87,29.81,21.46,21.02,20.23,19.77,19.48,19.08],"#8ec9ea");
function scat(x,y,w,h,col,n){el(R,"rect",{x:x,y:y,width:w,height:h,fill:"#fff",stroke:"#ddd"});for(var i=1;i<4;i++){el(R,"line",{x1:x+w*i/4,y1:y,x2:x+w*i/4,y2:y+h,stroke:"#e5e5e5"});}
 for(var k=0;k<n;k++){var t=rnd();var v=0.9*Math.exp(-2.2*t)+0.1+(rnd()-0.5)*0.45;v=Math.max(0.03,Math.min(0.98,v));el(R,"circle",{cx:x+t*w,cy:y+h-v*h,r:4,fill:col,stroke:"#333","stroke-width":0.8});}}
scat(4103,539,219,145,"#8fd46a",150);scat(4397,539,219,145,"#d99a96",170);scat(4103,1002,219,141,"#b48ed0",110);scat(4397,1002,219,141,"#6fb4dc",200);
var labs=[["L14 H24","L14 H13","L14 H26","L18 H10","L17 H11","L20 H1","L17 H18","L20 H0","L17 H13","L21 H1"],["L15 H39","L16 H30","L17 H2","L16 H21","L23 H15","L23 H13","L16 H3","L23 H33","L26 H30","L17 H4"],["L11 H15","L14 H11","L12 H15","L15 H10","L14 H3","L11 H12","L14 H1","L14 H6","L17 H7","L15 H0"],["L16 H31","L16 H16","L17 H24","L17 H21","L18 H0","L19 H31","L16 H24","L16 H21","L11 H14","L22 H17"]];
[[4117,428],[4412,428],[4117,891],[4412,891]].forEach(function(p,j){labs[j].forEach(function(s,i){var xx=p[0]+i*21+16;var q=el(R,"text",{x:xx,y:p[1],"font-size":17,"text-anchor":"end","class":"ls",transform:"rotate(-90 "+xx+" "+p[1]+")"});q.textContent=s;});});
var T=g("tables");
[[1585,2066],[2576,3060]].forEach(function(t){el(T,"line",{x1:t[0],y1:1514,x2:t[1],y2:1514,stroke:"#333","stroke-width":3});el(T,"rect",{x:t[0],y:1568,width:t[1]-t[0],height:18,fill:"#e2e2e2"});el(T,"rect",{x:t[0],y:1686,width:t[1]-t[0],height:18,fill:"#e2e2e2"});el(T,"line",{x1:t[0],y1:1801,x2:t[1],y2:1801,stroke:"#999","stroke-width":2});});
[[2070,2544],[3064,3540]].forEach(function(t){el(T,"rect",{x:t[0],y:1514,width:t[1]-t[0],height:20,fill:"#e2e2e2"});el(T,"rect",{x:t[0],y:1590,width:t[1]-t[0],height:214,fill:"none",stroke:"#e03a10","stroke-width":3});el(T,"rect",{x:t[0],y:1590,width:t[1]-t[0],height:19,fill:"#e6e6e6"});el(T,"rect",{x:t[0],y:1801,width:t[1]-t[0],height:4,fill:"#e03a10"});});
var D=g("dimgs");var pal=[["#c8602a","#e8c840","#7a2a1a"],["#606a78","#9fc0c8","#3a3040"],["#2a2a2a","#c8a870","#555"],["#3a2a1a","#a08050","#6aa040"],["#d0d0d8","#7a5a4a","#3a6ab0"],["#2a2018","#8a7040","#c0a060"]];
function blk(x0,y0,w,h,p,ncol,box){var cw=w/ncol;for(var i=0;i<ncol;i++){el(D,"rect",{x:x0+i*cw,y:y0,width:cw-2,height:h,fill:p[0]});el(D,"rect",{x:x0+i*cw,y:y0+h*0.45,width:cw-2,height:h*0.55,fill:p[2]});el(D,"ellipse",{cx:x0+i*cw+cw/2,cy:y0+h/2,rx:cw*0.3,ry:h*0.3,fill:p[1]});if(box)el(D,"rect",{x:x0+i*cw+cw*0.2,y:y0+h*0.25,width:cw*0.5,height:h*0.5,fill:"none",stroke:box,"stroke-width":3});}}
blk(3580,1483,561,90,pal[0],6,"#7ef03a");blk(4151,1483,557,90,pal[1],6,null);
blk(3580,1598,561,90,pal[2],6,"#f0e030");blk(4151,1598,557,90,pal[3],6,null);
blk(3580,1713,561,92,pal[4],6,"#e0104a");blk(4151,1713,557,92,pal[5],6,null);
[[4090,1576,"#7ef03a"],[4090,1692,"#f0e030"],[4090,1808,"#e0104a"],[4680,1576,"#bfe8ff"],[4680,1692,"#7ef03a"],[4680,1808,"#e0104a"]].forEach(function(q){el(D,"rect",{x:q[0]-55,y:q[1],width:72,height:22,fill:"#ddd"});el(D,"circle",{cx:q[0]+10,cy:q[1]+11,r:8,fill:q[2]});});
var G=g("eimgs");
function base(x,gray){el(G,"rect",{x:x,y:1955,width:508,height:338,fill:"url(#crowd)"});for(var k=0;k<140;k++)el(G,"rect",{x:x+rnd()*500,y:1955+rnd()*330,width:6,height:6,fill:["#223","#667","#8a8f9a","#3a4a7a"][k%4]});el(G,"ellipse",{cx:x+270,cy:2140,rx:70,ry:140,fill:gray?"#c8ccd4":"#d8dce4"});el(G,"ellipse",{cx:x+290,cy:2010,rx:30,ry:34,fill:gray?"#aab3d0":"#4a6ad0"});el(G,"ellipse",{cx:x+470,cy:2220,rx:16,ry:60,fill:"#eee"});}
base(39,false);base(573,true);
function band(x,op){el(G,"rect",{x:x,y:1955,width:502,height:334,fill:"url(#pink)"});el(G,"ellipse",{cx:x+200,cy:2130,rx:60,ry:150,fill:"#2a1a1a",opacity:op[0]});el(G,"ellipse",{cx:x+330,cy:2110,rx:55,ry:150,fill:"#2a1616",opacity:op[1]});el(G,"ellipse",{cx:x+330,cy:1990,rx:25,ry:35,fill:"#f0d8b0",opacity:op[1]});el(G,"rect",{x:x+150,y:2190,width:220,height:50,fill:"#9a1a1a",opacity:0.9,transform:"rotate(-30 "+(x+260)+" 2215)"});el(G,"rect",{x:x+440,y:2100,width:55,height:120,fill:"#5a3038"});}
band(1107,[1,1]);band(1632,[0.35,1]);band(2160,[1,0.35]);
el(G,"rect",{x:2712,y:1986,width:494,height:329,fill:"#3a3a2a"});el(G,"rect",{x:2712,y:1986,width:164,height:329,fill:"#4a4a38"});el(G,"ellipse",{cx:2820,cy:2180,rx:50,ry:130,fill:"#8a5a50"});el(G,"ellipse",{cx:2950,cy:2170,rx:60,ry:150,fill:"#666"});el(G,"ellipse",{cx:3060,cy:2180,rx:40,ry:140,fill:"#3a5a8a"});
el(G,"rect",{x:2876,y:1986,width:2,height:329,fill:"#ccc"});el(G,"rect",{x:2714,y:2015,width:40,height:52,fill:"#000"});el(G,"rect",{x:3110,y:2060,width:36,height:55,fill:"#000"});
var tg=el(G,"text",{x:2718,y:2048,"font-size":26,fill:"#fff","font-family":"Liberation Mono"});tg.textContent="girl";tg=el(G,"text",{x:3112,y:2094,"font-size":24,fill:"#fff","font-family":"Liberation Mono"});tg.textContent="boy";
el(G,"rect",{x:3212,y:1986,width:328,height:329,fill:"#05031a"});el(G,"rect",{x:3546,y:1986,width:328,height:329,fill:"#05031a"});
for(var k=0;k<60;k++){el(G,"rect",{x:3270+rnd()*18,y:2080+rnd()*220,width:12,height:14,fill:mag[2+Math.floor(rnd()*6)]});el(G,"rect",{x:3760+rnd()*30,y:2060+rnd()*230,width:12,height:14,fill:mag[2+Math.floor(rnd()*6)]});}
[4043,4234,4425].forEach(function(x,i){el(G,"rect",{x:x,y:2063,width:186,height:242,fill:"url(#corn)"});el(G,"ellipse",{cx:x+60,cy:2130,rx:18,ry:45,fill:"#e8c820"});el(G,"ellipse",{cx:x+110,cy:2200,rx:40,ry:60,fill:"#9ab830"});el(G,"rect",{x:x+(i==0?80:i==1?70:130),y:2170,width:i==1?60:22,height:i==1?130:90,fill:"none",stroke:"#e0204a","stroke-width":5});});
})();
</script>
</body></html>
